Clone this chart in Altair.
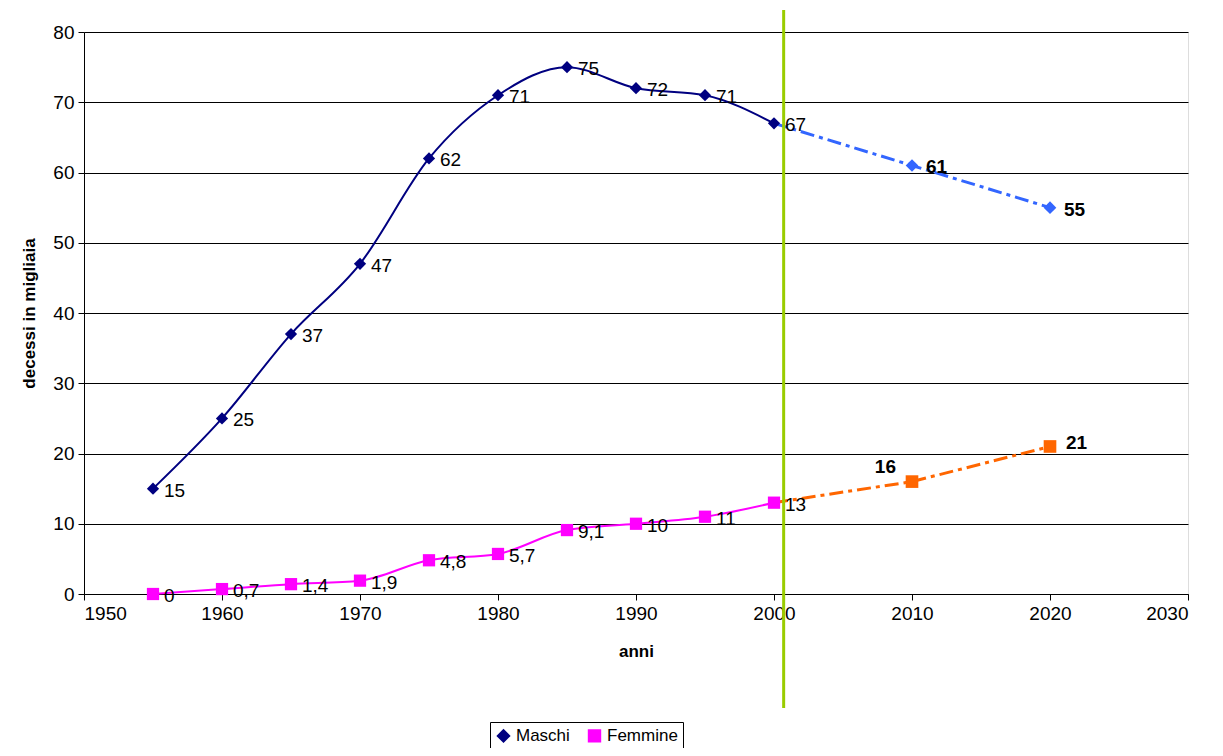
import altair as alt
import pandas as pd

years = [1955,1960,1965,1970,1975,1980,1985,1990,1995,2000]
maschi = [15,25,37,47,62,71,75,72,71,67]
maschi_lbl = ["15","25","37","47","62","71","75","72","71","67"]
femmine = [0,0.7,1.4,1.9,4.8,5.7,9.1,10,11,13]
femmine_lbl = ["0","0,7","1,4","1,9","4,8","5,7","9,1","10","11","13"]
proj_years = [2000,2010,2020]
proj_m = [67,61,55]
proj_f = [13,16,21]
proj_m_lbl = ["","61","55"]
proj_f_lbl = ["","16","21"]

dm = pd.DataFrame({"anno":years,"v":maschi,"lbl":maschi_lbl,"serie":"Maschi"})
df = pd.DataFrame({"anno":years,"v":femmine,"lbl":femmine_lbl,"serie":"Femmine"})
pm = pd.DataFrame({"anno":proj_years,"v":proj_m,"lbl":proj_m_lbl})
pf = pd.DataFrame({"anno":proj_years,"v":proj_f,"lbl":proj_f_lbl})
hist = pd.concat([dm,df])

X = alt.X("anno:Q", scale=alt.Scale(domain=[1950,2030]),
          axis=alt.Axis(title="anni", values=list(range(1950,2031,10)), format="d", grid=False,
                        tickSize=6, titleFontSize=17, labelFontSize=19, titlePadding=20, labelPadding=4,
                        domainColor="black", tickColor="black", labelColor="black"))
Y = alt.Y("v:Q", scale=alt.Scale(domain=[0,80]),
          axis=alt.Axis(title="decessi in migliaia", values=list(range(0,81,10)), gridColor="black",
                        tickSize=6, titleFontSize=17, labelFontSize=19, titlePadding=14, labelPadding=4,
                        domainColor="black", tickColor="black", labelColor="black"))

color = alt.Color("serie:N", scale=alt.Scale(domain=["Maschi","Femmine"], range=["#000080","#FF00FF"]),
                  legend=alt.Legend(title=None, orient="none", legendX=406, legendY=690, direction="horizontal",
                                    strokeColor="black", padding=5, labelFontSize=17, symbolSize=130,
                                    symbolStrokeWidth=2, columnPadding=14, labelColor="black"))
shape = alt.Shape("serie:N", scale=alt.Scale(domain=["Maschi","Femmine"], range=["diamond","square"]), legend=None)

base = alt.Chart(hist)
lines = base.mark_line(interpolate="monotone", strokeWidth=2).encode(x=X, y=Y, color=color)
pts = base.mark_point(filled=True, size=150, opacity=1).encode(x="anno:Q", y="v:Q", color=color, shape=shape)
lbls = base.mark_text(align="left", dx=11, dy=2, fontSize=19, color="black").encode(x="anno:Q", y="v:Q", text="lbl:N")

pml = alt.Chart(pm).mark_line(color="#3366FF", strokeWidth=3, strokeDash=[14,5,4,5]).encode(x="anno:Q", y="v:Q")
pmp = alt.Chart(pm[pm.anno>2000]).mark_point(filled=True, shape="diamond", size=160, color="#3366FF", opacity=1).encode(x="anno:Q", y="v:Q")
pmt = alt.Chart(pm).mark_text(align="left", dx=14, dy=2, fontSize=19, fontWeight="bold", color="black").encode(x="anno:Q", y="v:Q", text="lbl:N")
pfl = alt.Chart(pf).mark_line(color="#FF6600", strokeWidth=3, strokeDash=[14,5,4,5]).encode(x="anno:Q", y="v:Q")
pfp = alt.Chart(pf[pf.anno>2000]).mark_point(filled=True, shape="square", size=160, color="#FF6600", opacity=1).encode(x="anno:Q", y="v:Q")
pft1 = alt.Chart(pf[pf.anno==2010]).mark_text(align="right", dx=-16, dy=-15, fontSize=19, fontWeight="bold", color="black").encode(x="anno:Q", y="v:Q", text="lbl:N")
pft2 = alt.Chart(pf[pf.anno==2020]).mark_text(align="left", dx=16, dy=-3, fontSize=19, fontWeight="bold", color="black").encode(x="anno:Q", y="v:Q", text="lbl:N")

vline = alt.Chart(pd.DataFrame({"anno":[2000.7]})).mark_rule(color="#99CC00", strokeWidth=3).encode(
    x="anno:Q", y=alt.value(-22), y2=alt.value(676))

chart = alt.layer(lines, pml, pfl, vline, pts, pmp, pfp, lbls, pmt, pft1, pft2).properties(
    width=1104, height=562, autosize="none",
    padding={"left":76,"top":24,"right":19,"bottom":154}
).configure_view(stroke=None).configure(font="Liberation Sans")

chart.save("out.html", embed_options={"renderer":"svg","actions":False})
